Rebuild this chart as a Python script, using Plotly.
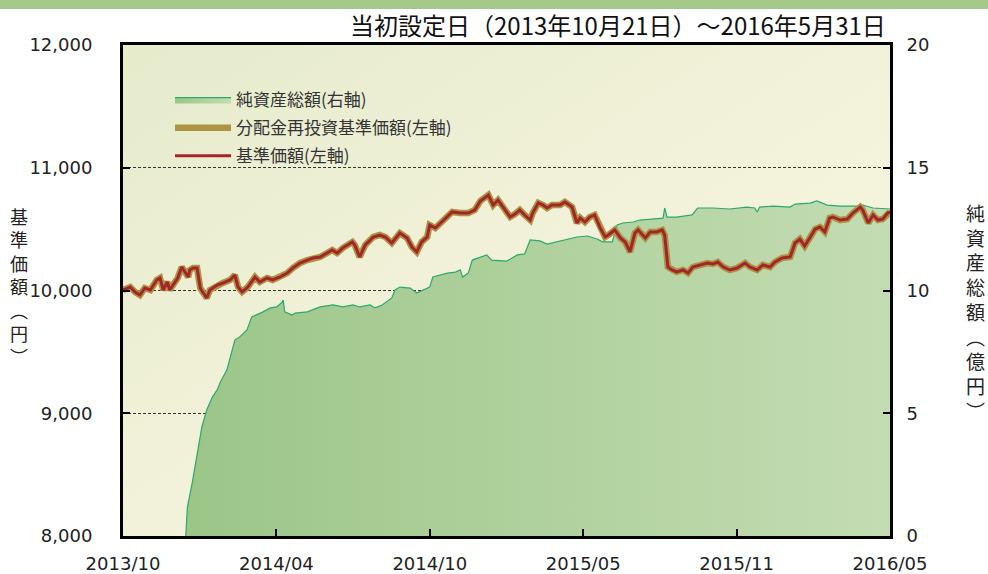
import base64
import plotly.graph_objects as go

# ---------------- data ----------------
# x = calendar days since launch (2013-10-21); the axis ends at 2016-05-31 (day 953)
x_tick_labels = ["2013/10", "2014/04", "2014/10", "2015/05", "2015/11", "2016/05"]
x_end_day = 953

price_days = [0, 9, 15, 21, 27, 34, 42, 46, 50, 55, 58, 65, 68, 73, 77, 81, 83, 87, 92, 96,
              99, 104, 108, 117, 124, 133, 139, 143, 148, 155, 164, 170, 179, 186, 195, 204, 211, 220, 229, 236,
              245, 260, 266, 273, 285, 288, 294, 301, 311, 319, 326, 334, 344, 353, 359, 365, 371, 378, 381, 388,
              396, 409, 419, 429, 437, 444, 454, 460, 466, 472, 481, 487, 493, 499, 506, 509, 516, 522, 527, 533,
              543, 549, 558, 564, 568, 574, 580, 586, 593, 599, 603, 611, 618, 624, 630, 636, 640, 649, 655, 663,
              670, 673, 677, 682, 688, 696, 702, 708, 717, 726, 733, 739, 746, 754, 763, 773, 779, 788, 795, 804,
              810, 819, 829, 835, 841, 847, 854, 860, 866, 872, 878, 882, 891, 900, 907, 916, 919, 926, 932, 938,
              944, 950, 953]

nav_price = [10004, 10028, 9988, 9963, 10020, 10004, 10086, 10102, 10004, 10069, 10004, 10069, 10102, 10191, 10151, 10110, 10167, 10183, 10183, 10020,
             9988, 9939, 10004, 10045, 10061, 10086, 10126, 10028, 9988, 10028, 10110, 10069, 10102, 10086, 10110, 10142, 10183, 10224, 10248, 10265,
             10273, 10330, 10305, 10346, 10395, 10371, 10273, 10371, 10436, 10452, 10436, 10387, 10468, 10428, 10354, 10314, 10395, 10436, 10534, 10509,
             10558, 10640, 10631, 10631, 10656, 10729, 10778, 10696, 10737, 10680, 10599, 10623, 10656, 10615, 10574, 10631, 10713, 10696, 10672, 10696,
             10696, 10721, 10680, 10550, 10591, 10558, 10599, 10615, 10509, 10436, 10452, 10493, 10428, 10395, 10314, 10468, 10493, 10428, 10477, 10477,
             10493, 10452, 10191, 10167, 10151, 10167, 10142, 10191, 10208, 10224, 10216, 10232, 10191, 10167, 10183, 10224, 10191, 10167, 10208, 10191,
             10232, 10265, 10273, 10387, 10419, 10362, 10436, 10501, 10517, 10477, 10591, 10599, 10574, 10582, 10631, 10680, 10656, 10550, 10615, 10574,
             10582, 10631, 10640]

# no distributions were paid, so the reinvested NAV coincides with the NAV
reinvest_price = [10004, 10028, 9988, 9963, 10020, 10004, 10086, 10102, 10004, 10069, 10004, 10069, 10102, 10191, 10151, 10110, 10167, 10183, 10183, 10020,
                  9988, 9939, 10004, 10045, 10061, 10086, 10126, 10028, 9988, 10028, 10110, 10069, 10102, 10086, 10110, 10142, 10183, 10224, 10248, 10265,
                  10273, 10330, 10305, 10346, 10395, 10371, 10273, 10371, 10436, 10452, 10436, 10387, 10468, 10428, 10354, 10314, 10395, 10436, 10534, 10509,
                  10558, 10640, 10631, 10631, 10656, 10729, 10778, 10696, 10737, 10680, 10599, 10623, 10656, 10615, 10574, 10631, 10713, 10696, 10672, 10696,
                  10696, 10721, 10680, 10550, 10591, 10558, 10599, 10615, 10509, 10436, 10452, 10493, 10428, 10395, 10314, 10468, 10493, 10428, 10477, 10477,
                  10493, 10452, 10191, 10167, 10151, 10167, 10142, 10191, 10208, 10224, 10216, 10232, 10191, 10167, 10183, 10224, 10191, 10167, 10208, 10191,
                  10232, 10265, 10273, 10387, 10419, 10362, 10436, 10501, 10517, 10477, 10591, 10599, 10574, 10582, 10631, 10680, 10656, 10550, 10615, 10574,
                  10582, 10631, 10640]

asset_days = [78, 80, 86, 92, 98, 104, 111, 117, 121, 129, 135, 139, 145, 154, 160, 166, 174, 183, 191, 198,
              199, 201, 210, 214, 229, 245, 261, 273, 286, 294, 307, 313, 322, 334, 338, 344, 357, 365, 373, 381,
              385, 394, 403, 413, 419, 422, 429, 434, 444, 452, 458, 477, 490, 499, 506, 518, 527, 539, 552, 564,
              577, 589, 596, 608, 611, 614, 621, 634, 642, 655, 671, 673, 676, 688, 701, 707, 714, 733, 754, 775,
              785, 788, 791, 808, 829, 835, 854, 862, 875, 891, 912, 919, 932, 950, 953]

net_assets = [0, 1.18, 2.16, 3.22, 4.44, 5.13, 5.66, 5.95, 6.27, 6.76, 7.46, 7.98, 8.11, 8.39, 8.92, 9.00, 9.13, 9.29, 9.33, 9.53,
              9.61, 9.13, 9.00, 9.08, 9.13, 9.33, 9.41, 9.33, 9.41, 9.33, 9.41, 9.29, 9.41, 9.70, 10.02, 10.14, 10.10, 9.90, 10.02, 10.14,
              10.55, 10.63, 10.71, 10.75, 10.84, 10.55, 10.71, 11.24, 11.37, 11.45, 11.24, 11.20, 11.45, 11.49, 12.06, 12.02, 11.89, 11.98, 12.10, 12.18,
              12.22, 12.10, 11.98, 11.98, 12.34, 12.67, 12.75, 12.79, 12.87, 12.91, 12.95, 13.36, 12.99, 12.99, 13.04, 13.08, 13.36, 13.36, 13.32, 13.40,
              13.36, 13.20, 13.40, 13.44, 13.40, 13.52, 13.56, 13.65, 13.48, 13.44, 13.44, 13.48, 13.36, 13.32, 13.32]

assert len(price_days) == len(nav_price) == len(reinvest_price)
assert len(asset_days) == len(net_assets)

# ---------------- styling ----------------
W, H = 988, 574
ML, MR, MT, MB = 123, 98, 45, 38
PW, PH = W - ML - MR, H - MT - MB

JP = "Noto Sans CJK JP"
NUM = "DejaVu Sans"

fig = go.Figure()

fig.add_trace(go.Scatter(
    x=asset_days, y=net_assets, name="純資産総額(右軸)", yaxis="y",
    mode="lines", fill="tozeroy",
    fillgradient=dict(type="horizontal", colorscale=[[0, "#9bc688"], [1, "#c4dcb3"]]),
    line=dict(color="#2ea86a", width=1.2), legendgroup="a", hoverinfo="skip"))

fig.add_trace(go.Scatter(
    x=price_days, y=reinvest_price, name="分配金再投資基準価額(左軸)", yaxis="y2",
    mode="lines", line=dict(color="#ad9442", width=6.5), legendgroup="b"))

fig.add_trace(go.Scatter(
    x=price_days, y=nav_price, name="基準価額(左軸)", yaxis="y2",
    mode="lines", line=dict(color="#a3252b", width=3), legendgroup="c"))

tickvals = [x_end_day * i / (len(x_tick_labels) - 1) for i in range(len(x_tick_labels))]

axis_common = dict(showline=True, linewidth=3, linecolor="black", ticks="inside",
                   tickcolor="black", tickwidth=2, ticklen=7, zeroline=False, automargin=False,
                   tickfont=dict(family=NUM, size=18, color="#222"))

svg = ('<svg xmlns="http://www.w3.org/2000/svg" width="100" height="100" preserveAspectRatio="none">'
       '<defs><linearGradient id="g" x1="0" y1="0" x2="1" y2="1">'
       '<stop offset="0" stop-color="#e6ebcc"/><stop offset="0.5" stop-color="#f2f2da"/>'
       '<stop offset="1" stop-color="#faf8e3"/></linearGradient></defs>'
       '<rect width="100" height="100" fill="url(#g)"/></svg>')
svg_uri = "data:image/svg+xml;base64," + base64.b64encode(svg.encode()).decode()

def px_x(p):
    return (p - ML) / PW

def px_y(p):
    return 1 - (p - MT) / PH

fig.update_layout(
    width=W, height=H,
    margin=dict(l=ML, r=MR, t=MT, b=MB, autoexpand=False),
    paper_bgcolor="white", plot_bgcolor="#f1f1d9",
    showlegend=True,
    legend=dict(x=px_x(170), y=px_y(82), xanchor="left", yanchor="top",
                bgcolor="rgba(0,0,0,0)", font=dict(family=JP, size=17, color="#333"),
                tracegroupgap=3, itemwidth=56),
    xaxis=dict(range=[0, x_end_day], tickvals=tickvals, ticktext=x_tick_labels,
               mirror=True, showgrid=False, ticklabelstandoff=9, **axis_common),
    yaxis=dict(range=[0, 20], tickvals=[0, 5, 10, 15, 20], side="right",
               showgrid=True, gridcolor="#333", griddash="3px,2px", gridwidth=1,
               ticklabelstandoff=10, **axis_common),
    yaxis2=dict(range=[8000, 12000], tickvals=[8000, 9000, 10000, 11000, 12000],
                tickformat=",", overlaying="y", side="left", showgrid=False,
                ticklabelstandoff=24, **axis_common),
    images=[dict(source=svg_uri, xref="paper", yref="paper", x=0, y=1, sizex=1, sizey=1,
                 sizing="stretch", xanchor="left", yanchor="top", layer="below")],
    shapes=[dict(type="rect", xref="paper", yref="paper", x0=px_x(-5), x1=px_x(W + 5),
                 y0=px_y(9), y1=px_y(-5), fillcolor="#a4c98b", line=dict(width=0))],
    annotations=[
        dict(text="当初設定日（2013年10月21日）～2016年5月31日", xref="paper", yref="paper",
             x=px_x(888), y=px_y(24), xanchor="right", yanchor="middle", showarrow=False,
             font=dict(family=JP, size=24, color="#111")),
        dict(text="<br>".join(list("基準価額") + ["︵", "円", "︶"]), xref="paper", yref="paper",
             x=px_x(19), y=px_y(286), xanchor="center", yanchor="middle", showarrow=False,
             font=dict(family=JP, size=18, color="#222")),
        dict(text="<br>".join(list("純資産総額") + ["︵", "億", "円", "︶"]), xref="paper", yref="paper",
             x=px_x(975), y=px_y(311), xanchor="center", yanchor="middle", showarrow=False,
             font=dict(family=JP, size=19, color="#222")),
    ],
)

fig.write_html("out.html", config={"displayModeBar": False},
               post_script="document.body.style.margin='0';document.body.style.overflow='hidden';")
